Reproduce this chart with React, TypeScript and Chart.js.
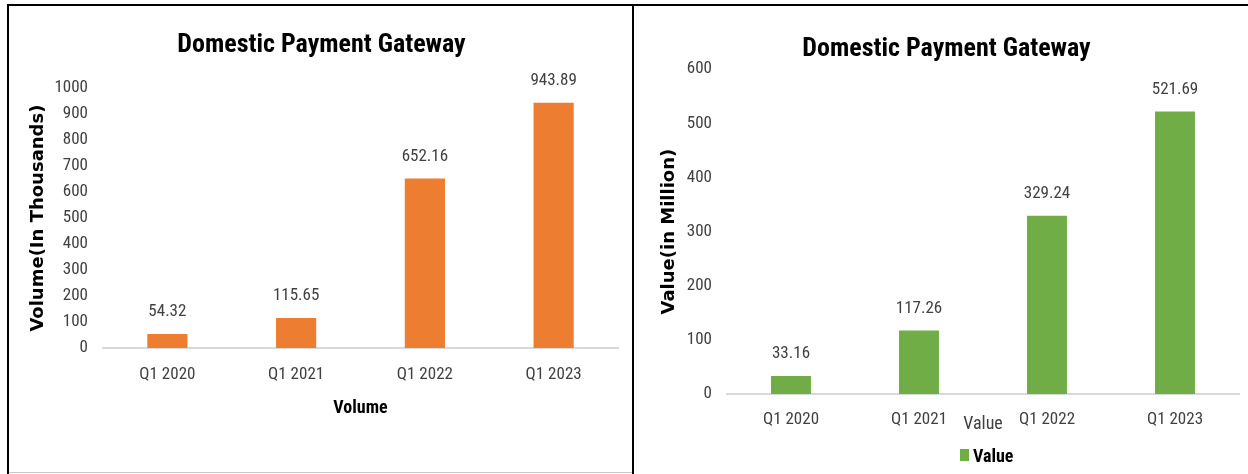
import React, { useEffect, useRef } from 'react';
import { Chart, registerables } from 'chart.js';

Chart.register(...registerables);

// ---- Data ----
const categories: string[] = ['Q1 2020', 'Q1 2021', 'Q1 2022', 'Q1 2023'];
const volumeValues: number[] = [54.32, 115.65, 652.16, 943.89];
const valueValues: number[] = [33.16, 117.26, 329.24, 521.69];
const volumeAxisMax = 1000;
const valueAxisMax = 600;
const tickStep = 100;

const chartTitle = 'Domestic Payment Gateway';
const volumeYTitle = 'Volume(In Thousands)';
const volumeXTitle = 'Volume';
const valueYTitle = 'Value(in Million)';
const valueXTitle = 'Value';
const legendLabel = 'Value';

// ---- Styles ----
const NARROW = "'Liberation Sans Narrow', 'Roboto Condensed', 'Open Sans', sans-serif";
const WIDE = "'DejaVu Sans', Verdana, sans-serif";
const ORANGE = '#ED7D31';
const GREEN = '#70AD47';
const TEXT = '#404040';

const barLabelPlugin = {
  id: 'barLabels',
  afterDatasetsDraw(chart: any) {
    const ctx = chart.ctx;
    chart.data.datasets.forEach((ds: any, di: number) => {
      const meta = chart.getDatasetMeta(di);
      meta.data.forEach((el: any, i: number) => {
        ctx.save();
        ctx.font = `17px ${NARROW}`;
        ctx.fillStyle = TEXT;
        ctx.textAlign = 'center';
        ctx.textBaseline = 'middle';
        ctx.fillText(Number(ds.data[i]).toFixed(2), el.x, el.y - 22);
        ctx.restore();
      });
    });
  },
};

interface Cfg {
  values: number[];
  color: string;
  max: number;
  yTitle: string;
  xTitle: string;
  xTitleBold: boolean;
  padLeft: number;
  padRight: number;
  padBottom: number;
  titlePadTop: number;
  titlePadBottom: number;
  yWidth: number;
  yTickPad: number;
  yTitlePad: number;
  xHeight: number;
  xTickPad: number;
  xTitlePadBottom: number;
}

function BarChart({ cfg, width, height }: { cfg: Cfg; width: number; height: number }) {
  const ref = useRef<HTMLCanvasElement | null>(null);
  useEffect(() => {
    if (!ref.current) return;
    const chart = new Chart(ref.current, {
      type: 'bar',
      data: {
        labels: categories,
        datasets: [
          {
            label: cfg.xTitle,
            data: cfg.values,
            backgroundColor: cfg.color,
            categoryPercentage: 1,
            barPercentage: 0.312,
          },
        ],
      },
      options: {
        responsive: false,
        animation: false,
        devicePixelRatio: 1,
        layout: {
          padding: { left: cfg.padLeft, right: cfg.padRight, top: 0, bottom: cfg.padBottom },
        },
        plugins: {
          legend: { display: false },
          tooltip: { enabled: false },
          title: {
            display: true,
            text: chartTitle,
            color: '#000000',
            font: { family: NARROW, size: 26, weight: 'bold' },
            padding: { top: cfg.titlePadTop, bottom: cfg.titlePadBottom },
          },
        },
        scales: {
          x: {
            grid: { display: false, drawTicks: false },
            border: { display: true, color: '#D9D9D9', width: 2 },
            ticks: { color: TEXT, font: { family: NARROW, size: 17 }, padding: cfg.xTickPad },
            title: {
              display: true,
              text: cfg.xTitle,
              color: cfg.xTitleBold ? '#000000' : TEXT,
              font: { family: NARROW, size: 18, weight: cfg.xTitleBold ? 'bold' : 'normal' },
              padding: { top: 0, bottom: cfg.xTitlePadBottom },
            },
            afterFit: (scale: any) => {
              scale.height = cfg.xHeight;
            },
          },
          y: {
            min: 0,
            max: cfg.max,
            grid: { display: false, drawTicks: false },
            border: { display: false },
            ticks: {
              stepSize: tickStep,
              autoSkip: false,
              color: TEXT,
              font: { family: NARROW, size: 17 },
              padding: cfg.yTickPad,
              callback: (v: any) => String(v),
            },
            title: {
              display: true,
              text: cfg.yTitle,
              color: '#000000',
              font: { family: WIDE, size: 18, weight: 'bold' },
              padding: { top: cfg.yTitlePad, bottom: 0 },
            },
            afterFit: (scale: any) => {
              scale.width = cfg.yWidth;
            },
          },
        },
      } as any,
      plugins: [barLabelPlugin],
    });
    return () => chart.destroy();
  }, [cfg, width, height]);
  return <canvas ref={ref} width={width} height={height} style={{ width, height, display: 'block' }} />;
}

const volumeCfg: Cfg = {
  values: volumeValues,
  color: ORANGE,
  max: volumeAxisMax,
  yTitle: volumeYTitle,
  xTitle: volumeXTitle,
  xTitleBold: true,
  padLeft: 16,
  padRight: 14,
  padBottom: 44,
  titlePadTop: 24,
  titlePadBottom: 27,
  yWidth: 78,
  yTickPad: 15,
  yTitlePad: 3,
  xHeight: 80,
  xTickPad: 17,
  xTitlePadBottom: 9,
};

const valueCfg: Cfg = {
  values: valueValues,
  color: GREEN,
  max: valueAxisMax,
  yTitle: valueYTitle,
  xTitle: valueXTitle,
  xTitleBold: false,
  padLeft: 20,
  padRight: 9,
  padBottom: 18,
  titlePadTop: 28,
  titlePadBottom: 4,
  yWidth: 73,
  yTickPad: 15,
  yTitlePad: 5,
  xHeight: 60,
  xTickPad: 16,
  xTitlePadBottom: 19,
};

export default function App() {
  return (
    <div style={{ position: 'absolute', left: 0, top: 0, width: 1248, height: 474, background: '#ffffff', overflow: 'hidden' }}>
      <div style={{ position: 'absolute', left: 9, top: 6 }}>
        <BarChart cfg={volumeCfg} width={623} height={466} />
      </div>
      <div style={{ position: 'absolute', left: 634, top: 6 }}>
        <BarChart cfg={valueCfg} width={614} height={466} />
      </div>
      {/* frame */}
      <div style={{ position: 'absolute', left: 7, top: 4, width: 1241, height: 2, background: '#000' }} />
      <div style={{ position: 'absolute', left: 7, top: 4, width: 2, height: 470, background: '#000' }} />
      <div style={{ position: 'absolute', left: 632, top: 4, width: 2, height: 470, background: '#000' }} />
      <div style={{ position: 'absolute', left: 9, top: 472, width: 623, height: 1, background: '#C8C8C8' }} />
      {/* legend */}
      <div
        style={{
          position: 'absolute',
          left: 960,
          top: 444,
          height: 22,
          display: 'flex',
          alignItems: 'center',
          fontFamily: NARROW,
          fontWeight: 'bold',
          fontSize: 18,
          color: '#000',
        }}
      >
        <span style={{ display: 'inline-block', width: 9, height: 12, background: GREEN, marginRight: 4 }} />
        <span>{legendLabel}</span>
      </div>
    </div>
  );
}
